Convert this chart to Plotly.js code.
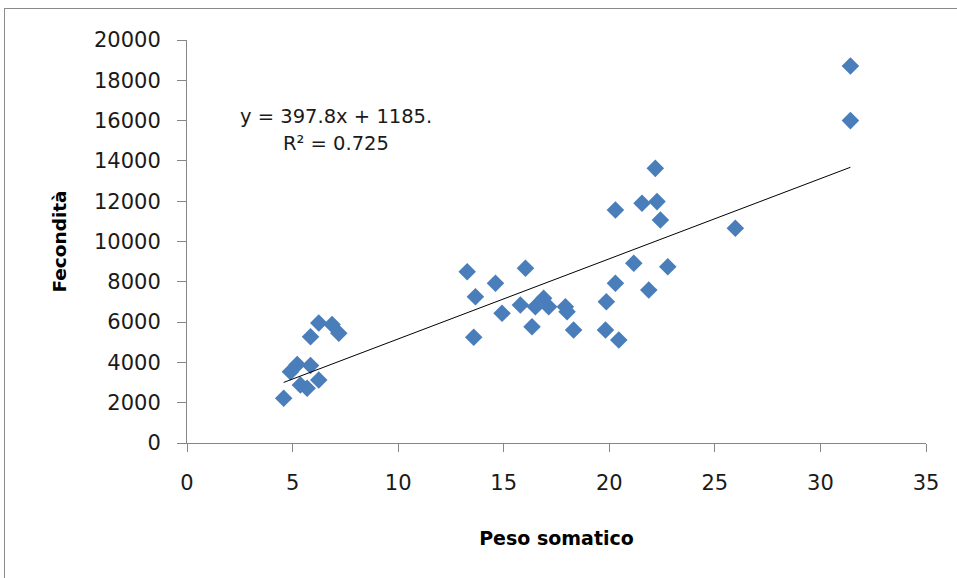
<!DOCTYPE html>
<html>
<head>
<meta charset="utf-8">
<script src="https://cdn.plot.ly/plotly-3.0.1.min.js"></script>
<style>
  html, body { margin: 0; padding: 0; background: #fff; }
  #wrap { position: relative; width: 957px; height: 578px; overflow: hidden; }
  #chart { position: absolute; left: 0; top: 0; width: 957px; height: 578px; }
  #frame { position: absolute; left: 4px; top: 8px; width: 970px; height: 600px;
           border: 1.5px solid #8a8a8a; pointer-events: none; box-sizing: border-box; }
</style>
</head>
<body>
<div id="wrap">
  <div id="chart"></div>
  <div id="frame"></div>
</div>
<script>
// Peso somatico (x) vs Fecondità (y)
const pesoSomatico = [
  4.58, 5.37, 5.69, 6.24, 4.90, 5.22, 5.85, 5.85, 6.24, 6.87, 7.19,
  13.27, 16.03, 14.61, 13.66, 14.92, 15.79, 16.50, 16.89, 17.13, 17.92, 18.00, 16.34, 18.31, 13.58,
  22.18, 20.29, 21.55, 22.26, 22.42, 21.16, 22.77, 20.29, 21.87, 19.86, 19.82, 20.45,
  31.42, 31.42, 25.97
];
const fecondita = [
  2218, 2878, 2715, 3127, 3540, 3900, 3850, 5275, 5960, 5880, 5444,
  8500, 8670, 7925, 7260, 6435, 6850, 6765, 7180, 6765, 6765, 6515, 5770, 5610, 5245,
  13630, 11560, 11900, 11980, 11070, 8920, 8750, 7925, 7590, 7010, 5610, 5110,
  18710, 16000, 10655
];
const trendSlope = 397.8;
const trendIntercept = 1185;
const equationText = "y = 397.8x + 1185.";
const r2Text = "R² = 0.725";
const xTickVals = [0, 5, 10, 15, 20, 25, 30, 35];
const yTickVals = [0, 2000, 4000, 6000, 8000, 10000, 12000, 14000, 16000, 18000, 20000];

const xMin = Math.min(...pesoSomatico), xMax = Math.max(...pesoSomatico);
const trendX = [xMin, xMax];
const trendY = trendX.map(v => trendSlope * v + trendIntercept);

const font = "DejaVu Sans, sans-serif";

const data = [
  {
    type: 'scatter', mode: 'markers', x: pesoSomatico, y: fecondita,
    marker: { symbol: 'diamond', size: 13.5, color: '#4A7EBB', line: { width: 0 } },
    hoverinfo: 'x+y', showlegend: false
  },
  {
    type: 'scatter', mode: 'lines', x: trendX, y: trendY,
    line: { color: '#000000', width: 1 }, hoverinfo: 'skip', showlegend: false
  }
];

const layout = {
  width: 957, height: 578,
  margin: { l: 187, r: 31, t: 40, b: 135 },
  paper_bgcolor: '#ffffff', plot_bgcolor: '#ffffff',
  showlegend: false,
  xaxis: {
    range: [0, 35], tickvals: xTickVals, ticktext: xTickVals.map(String),
    showgrid: false, zeroline: false, showline: true, linecolor: '#868686', linewidth: 1,
    ticks: 'outside', ticklen: 8, tickcolor: '#868686', tickwidth: 1,
    tickfont: { family: font, size: 21, color: '#1a1a1a' },
    ticklabelstandoff: 13,
    title: { text: 'Peso somatico', font: { family: font, size: 19, color: '#000', weight: 'bold' }, standoff: 37 }
  },
  yaxis: {
    range: [0, 20000], tickvals: yTickVals, ticktext: yTickVals.map(String),
    showgrid: false, zeroline: false, showline: true, linecolor: '#868686', linewidth: 1,
    ticks: 'outside', ticklen: 9, tickcolor: '#868686', tickwidth: 1,
    tickfont: { family: font, size: 21, color: '#1a1a1a' },
    ticklabelstandoff: 12,
    title: { text: 'Fecondità', font: { family: font, size: 18.5, color: '#000', weight: 'bold' }, standoff: 22 }
  },
  annotations: [
    { xref: 'x', yref: 'y', x: 7.08, y: 16228, text: equationText, showarrow: false,
      xanchor: 'center', yanchor: 'middle', font: { family: font, size: 19.5, color: '#1a1a1a' } },
    { xref: 'x', yref: 'y', x: 7.08, y: 14888, text: r2Text, showarrow: false,
      xanchor: 'center', yanchor: 'middle', font: { family: font, size: 19.5, color: '#1a1a1a' } }
  ]
};

Plotly.newPlot('chart', data, layout, { staticPlot: true, displayModeBar: false });
</script>
</body>
</html>
